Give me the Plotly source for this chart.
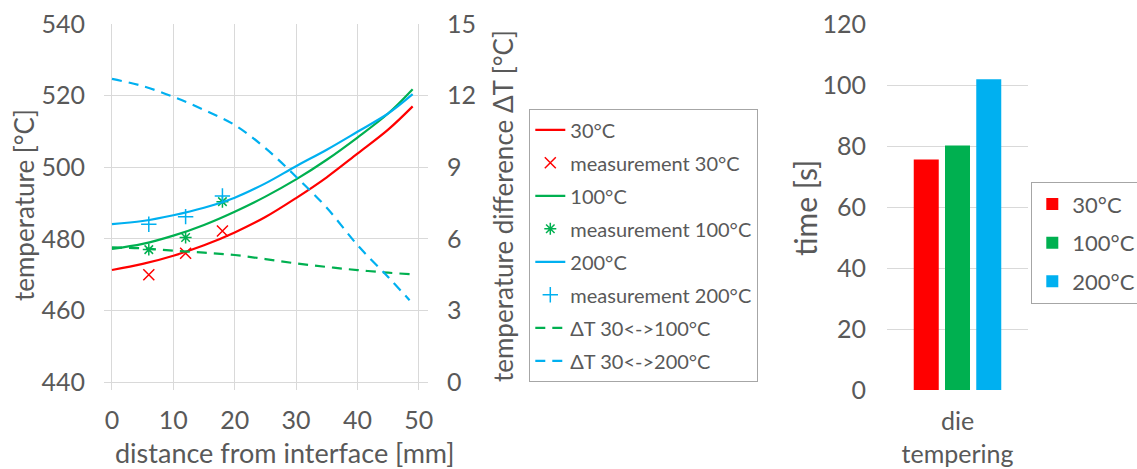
import plotly.graph_objects as go

# ---- data: left chart ----
dist = [0, 5, 10, 15, 20, 25, 30, 35, 40, 45, 49]
t30 = [471.3, 473.0, 475.3, 478.2, 481.8, 486.1, 491.4, 497.2, 503.8, 510.5, 517.0]
t100 = [477.2, 478.6, 480.9, 483.9, 487.6, 491.8, 496.6, 502.1, 508.3, 515.0, 521.8]
t200 = [484.1, 485.0, 486.6, 488.7, 491.5, 495.5, 500.3, 504.9, 509.9, 515.0, 520.4]

meas_x = [6, 12, 18]
m30 = [470.0, 476.0, 482.2]
m100 = [477.0, 480.4, 490.4]
m200 = [484.1, 486.2, 492.0]

dist_dt = [0, 5, 10, 15, 20, 25, 30, 35, 40, 45, 48.5]
dt100 = [5.64, 5.60, 5.50, 5.42, 5.32, 5.15, 4.97, 4.82, 4.69, 4.58, 4.52]
dt200 = [12.70, 12.40, 11.95, 11.40, 10.77, 9.80, 8.60, 7.30, 5.74, 4.40, 3.43]

# ---- data: bar chart ----
bar_cat = ["die<br>tempering"]
bar_labels = ["30°C", "100°C", "200°C"]
bar_vals = [75.6, 80.2, 101.9]

RED = "#FF0000"
GREEN = "#00B050"
BLUE = "#00B0F0"
TXT = "#595959"
GRID = "#D9D9D9"
FONT = "Lato"

W, H = 1137, 469
def px(x):
    return x / W
def py(y):
    return 1 - y / H

fig = go.Figure()

common = dict(xaxis="x", yaxis="y", legend="legend")
fig.add_trace(go.Scatter(x=dist, y=t30, mode="lines", name="30°C", line=dict(color=RED, width=2.2, shape="spline"), legendgroup="a", **common))
fig.add_trace(go.Scatter(x=meas_x, y=m30, mode="markers", name="measurement 30°C", marker=dict(symbol="x-thin-open", size=11, line=dict(color=RED, width=1.5), color=RED), legendgroup="b", **common))
fig.add_trace(go.Scatter(x=dist, y=t100, mode="lines", name="100°C", line=dict(color=GREEN, width=2.2, shape="spline"), legendgroup="c", **common))
fig.add_trace(go.Scatter(x=meas_x, y=m100, mode="markers", name="measurement 100°C", marker=dict(symbol="asterisk-open", size=10, line=dict(color=GREEN, width=1.5), color=GREEN), legendgroup="d", **common))
fig.add_trace(go.Scatter(x=dist, y=t200, mode="lines", name="200°C", line=dict(color=BLUE, width=2.2, shape="spline"), legendgroup="e", **common))
fig.add_trace(go.Scatter(x=meas_x, y=m200, mode="markers", name="measurement 200°C", marker=dict(symbol="cross-thin-open", size=11, line=dict(color=BLUE, width=1.5), color=BLUE), legendgroup="f", **common))
fig.add_trace(go.Scatter(x=dist_dt, y=dt100, mode="lines", name="ΔT 30<->100°C", line=dict(color=GREEN, width=2.2, dash="10px,7px", shape="spline"), legendgroup="g", xaxis="x", yaxis="y2", legend="legend"))
fig.add_trace(go.Scatter(x=dist_dt, y=dt200, mode="lines", name="ΔT 30<->200°C", line=dict(color=BLUE, width=2.2, dash="10px,7px", shape="spline"), legendgroup="h", xaxis="x", yaxis="y2", legend="legend"))

for i, (lab, val, col) in enumerate(zip(bar_labels, bar_vals, [RED, GREEN, BLUE])):
    fig.add_trace(go.Bar(x=bar_cat, y=[val], name=lab, marker=dict(color=col, line=dict(width=0)),
                         legendgroup="bar%d" % i, xaxis="x2", yaxis="y3", legend="legend2"))

tickfont = dict(family=FONT, size=25, color=TXT)
TS = 26

fig.update_layout(
    width=W, height=H,
    margin=dict(l=0, r=0, t=0, b=0, autoexpand=False),
    paper_bgcolor="white", plot_bgcolor="white",
    font=dict(family=FONT, color=TXT),
    barmode="group", bargap=0.335, bargroupgap=0.2,
    xaxis=dict(domain=[px(104), px(428)], range=[-1.3, 51.5], tickvals=[0, 10, 20, 30, 40, 50],
               showgrid=True, gridcolor=GRID, gridwidth=1, zeroline=False, showline=False,
               tickfont=tickfont, ticks="", ticklabelstandoff=13, anchor="y"),
    yaxis=dict(domain=[py(390), py(24)], range=[437.8, 540], tickvals=[440, 460, 480, 500, 520, 540],
               showgrid=True, gridcolor=GRID, zeroline=False, showline=False,
               tickfont=tickfont, ticks="", ticklabelstandoff=18, anchor="x"),
    yaxis2=dict(domain=[py(390), py(24)], range=[-0.335, 15], tickvals=[0, 3, 6, 9, 12, 15],
                overlaying="y", side="right", anchor="x", showgrid=False, zeroline=False, showline=False,
                tickfont=tickfont, ticks="", ticklabelstandoff=18),
    xaxis2=dict(domain=[px(887), px(1028)], anchor="y3", showgrid=False, zeroline=False, showline=False,
                tickfont=dict(family=FONT, size=25, color=TXT), ticks="", ticklabelstandoff=14),
    yaxis3=dict(domain=[py(390), py(24)], range=[0, 120], tickvals=[0, 20, 40, 60, 80, 100, 120],
                anchor="x2", showgrid=True, gridcolor=GRID, zeroline=False, showline=False,
                tickfont=tickfont, ticks="", ticklabelstandoff=20),
    legend=dict(x=px(529), y=py(109), xanchor="left", yanchor="top", bgcolor="white",
                bordercolor="#A6A6A6", borderwidth=1.3, font=dict(family=FONT, size=20, color=TXT),
                tracegroupgap=4, itemwidth=30),
    legend2=dict(x=px(1031), y=py(182), xanchor="left", yanchor="top", bgcolor="white",
                 bordercolor="#A6A6A6", borderwidth=1.3, font=dict(family=FONT, size=22, color=TXT),
                 tracegroupgap=7, itemwidth=30),
    annotations=[
        dict(text="temperature [°C]", x=px(24), y=py(205), xref="paper", yref="paper", textangle=-90,
             showarrow=False, font=dict(family=FONT, size=TS, color=TXT), xanchor="center", yanchor="middle"),
        dict(text="distance from interface [mm]", x=px(285), y=py(452), xref="paper", yref="paper",
             showarrow=False, font=dict(family=FONT, size=27, color=TXT), xanchor="center", yanchor="middle"),
        dict(text="temperature difference ΔT [°C]", x=px(503), y=py(206), xref="paper", yref="paper", textangle=-90,
             showarrow=False, font=dict(family=FONT, size=TS, color=TXT), xanchor="center", yanchor="middle"),
        dict(text="time [s]", x=px(805), y=py(208), xref="paper", yref="paper", textangle=-90,
             showarrow=False, font=dict(family=FONT, size=30, color=TXT), xanchor="center", yanchor="middle"),
    ],
)

fig.write_html("out.html")
